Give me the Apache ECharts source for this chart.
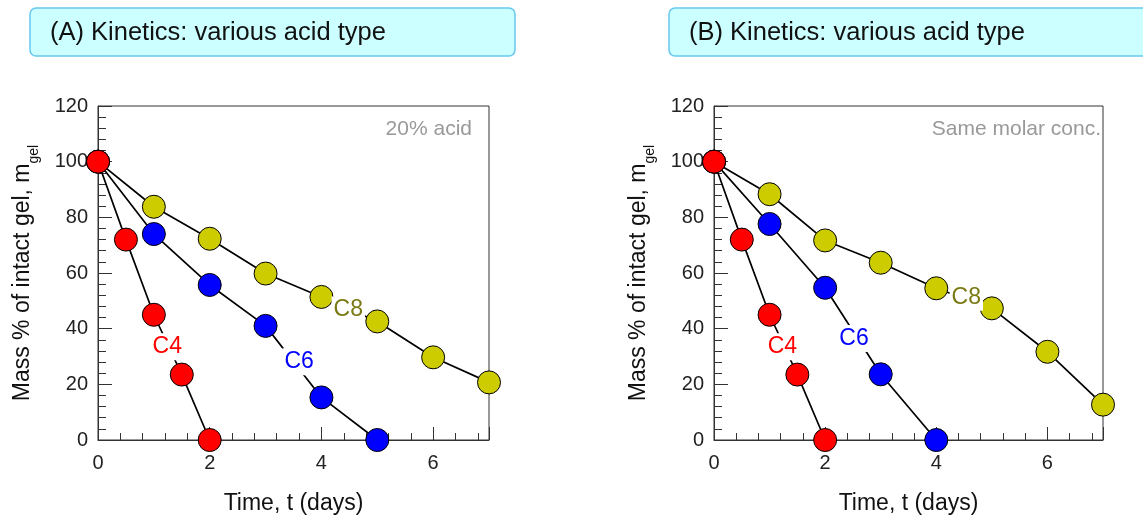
<!DOCTYPE html>
<html>
<head>
<meta charset="utf-8">
<script src="https://cdn.jsdelivr.net/npm/echarts@6/dist/echarts.min.js"></script>
<style>
  html, body { margin: 0; padding: 0; background: #fff; }
  #chart { width: 1143px; height: 516px; }
</style>
</head>
<body>
<div id="chart"></div>
<script>
// Degradation kinetics of gels in different acids (C4, C6, C8)
const panelTitles = ['(A) Kinetics: various acid type', '(B) Kinetics: various acid type'];
const panelNotes = ['20% acid', 'Same molar conc.'];
const xTicks = [0, 2, 4, 6];
const yTicks = [0, 20, 40, 60, 80, 100, 120];

// Panel A: 20% acid
const timeC4_A = [0, 0.5, 1, 1.5, 2];
const massC4_A = [100, 72, 45, 23.5, 0];
const timeC6_A = [0, 1, 2, 3, 4, 5];
const massC6_A = [100, 74, 55.7, 41, 15.3, 0];
const timeC8_A = [0, 1, 2, 3, 4, 5, 6, 7];
const massC8_A = [100, 83.8, 72.3, 59.8, 51.4, 42.6, 29.7, 20.7];

// Panel B: same molar concentration
const timeC4_B = [0, 0.5, 1, 1.5, 2];
const massC4_B = [100, 72, 45, 23.5, 0];
const timeC6_B = [0, 1, 2, 3, 4];
const massC6_B = [100, 77.6, 54.7, 23.6, 0];
const timeC8_B = [0, 1, 2, 3, 4, 5, 6, 7];
const massC8_B = [100, 88.3, 71.7, 63.7, 54.5, 47.3, 31.7, 12.7];

const zip = (xs, ys) => xs.map((x, i) => [x, ys[i]]);

const colors = { C4: '#ff0000', C6: '#0000ff', C8: '#cccc00' };
const labelColors = { C4: '#ff0000', C6: '#0000ff', C8: '#7a7a14' };
const FONT = '"Liberation Sans", Arial, sans-serif';

// where each curve's name sits on the plot, per panel
const labelSpots = [
  { C4: [1.24, 33.5], C6: [3.6, 28.1], C8: [4.48, 46.7] },
  { C4: [1.23, 33.5], C6: [2.52, 36.5], C8: [4.54, 51.3] }
];

const grids = [
  { left: 98, top: 106, width: 391, height: 334 },
  { left: 714, top: 106, width: 389, height: 334 }
];

function xAxisFor(i) {
  return {
    gridIndex: i, type: 'value', min: 0, max: 7, interval: 2,
    name: 'Time, t (days)', nameLocation: 'middle', nameGap: 52,
    nameTextStyle: { fontFamily: FONT, fontSize: 23, color: '#111' },
    axisLine: { lineStyle: { color: '#333', width: 1 } },
    axisTick: { inside: true, length: 13, lineStyle: { color: '#333' } },
    minorTick: { show: true, splitNumber: 5, length: 7, lineStyle: { color: '#333' } },
    axisLabel: {
      fontFamily: FONT, fontSize: 20, color: '#222', margin: 13,
      formatter: v => (xTicks.includes(v) ? String(v) : '')
    },
    splitLine: { show: false }
  };
}

function yAxisFor(i) {
  return {
    gridIndex: i, type: 'value', min: 0, max: 120, interval: 20,
    name: '{a|Mass % of intact gel, m}{s|gel}', nameLocation: 'middle', nameGap: 57,
    nameRotate: 90,
    nameTextStyle: {
      fontFamily: FONT, color: '#111',
      rich: {
        a: { fontFamily: FONT, fontSize: 23, color: '#111', lineHeight: 30, verticalAlign: 'top' },
        s: { fontFamily: FONT, fontSize: 14, color: '#111', lineHeight: 30, verticalAlign: 'bottom', padding: [11, 0, 0, 0] }
      }
    },
    axisLine: { lineStyle: { color: '#333', width: 1 } },
    axisTick: { inside: true, length: 14, lineStyle: { color: '#333' } },
    minorTick: { show: true, splitNumber: 5, length: 8, lineStyle: { color: '#333' } },
    axisLabel: {
      fontFamily: FONT, fontSize: 20, color: '#222', margin: 10,
      formatter: v => (yTicks.includes(v) ? String(v) : '')
    },
    splitLine: { show: false }
  };
}

function curve(panel, name, xs, ys, z) {
  const spot = labelSpots[panel][name];
  return {
    type: 'line', name: name, xAxisIndex: panel, yAxisIndex: panel,
    data: zip(xs, ys), z: z,
    symbol: 'circle', symbolSize: 23,
    lineStyle: { color: '#000', width: 1.7 },
    itemStyle: { color: colors[name], borderColor: '#000', borderWidth: 1 },
    emphasis: { disabled: true },
    animation: false,
    markPoint: {
      symbol: 'circle', symbolSize: 0, silent: true, animation: false,
      data: [{
        coord: spot,
        label: {
          show: true, position: 'inside', formatter: name,
          fontFamily: FONT, fontSize: 23, color: labelColors[name],
          backgroundColor: '#fff', padding: [2, 2]
        }
      }]
    }
  };
}

const series = [];
[[timeC4_A, massC4_A, timeC6_A, massC6_A, timeC8_A, massC8_A],
 [timeC4_B, massC4_B, timeC6_B, massC6_B, timeC8_B, massC8_B]].forEach((d, p) => {
  series.push(curve(p, 'C8', d[4], d[5], 2));
  series.push(curve(p, 'C6', d[2], d[3], 3));
  series.push(curve(p, 'C4', d[0], d[1], 4));
});

const graphics = [
  { x: 30, w: 485 },
  { x: 669, w: 490 }
].map((b, i) => ({
  type: 'group', children: [
    {
      type: 'rect', shape: { x: b.x, y: 8, width: b.w, height: 48, r: 6 },
      style: { fill: '#ccffff', stroke: '#66c8f0', lineWidth: 1.5 }
    },
    {
      type: 'text', x: b.x + 20, y: 33,
      style: { text: panelTitles[i], font: '25.5px ' + FONT, fill: '#111', verticalAlign: 'middle' }
    }
  ]
}));

// corner notes inside each plot
graphics.push(
  { type: 'text', right: 1143 - 472, top: 119, style: { text: panelNotes[0], font: '21px ' + FONT, fill: '#999' } },
  { type: 'text', right: 1143 - 1101, top: 119, style: { text: panelNotes[1], font: '21px ' + FONT, fill: '#999' } }
);

const chart = echarts.init(document.getElementById('chart'), null, { renderer: 'canvas' });
chart.setOption({
  backgroundColor: '#fff',
  animation: false,
  grid: grids.map(g => Object.assign({
    show: true, borderColor: '#333', borderWidth: 1, backgroundColor: 'transparent',
    containLabel: false, outerBoundsMode: 'none'
  }, g)),
  xAxis: [xAxisFor(0), xAxisFor(1)],
  yAxis: [yAxisFor(0), yAxisFor(1)],
  series: series,
  graphic: graphics
});
</script>
</body>
</html>
